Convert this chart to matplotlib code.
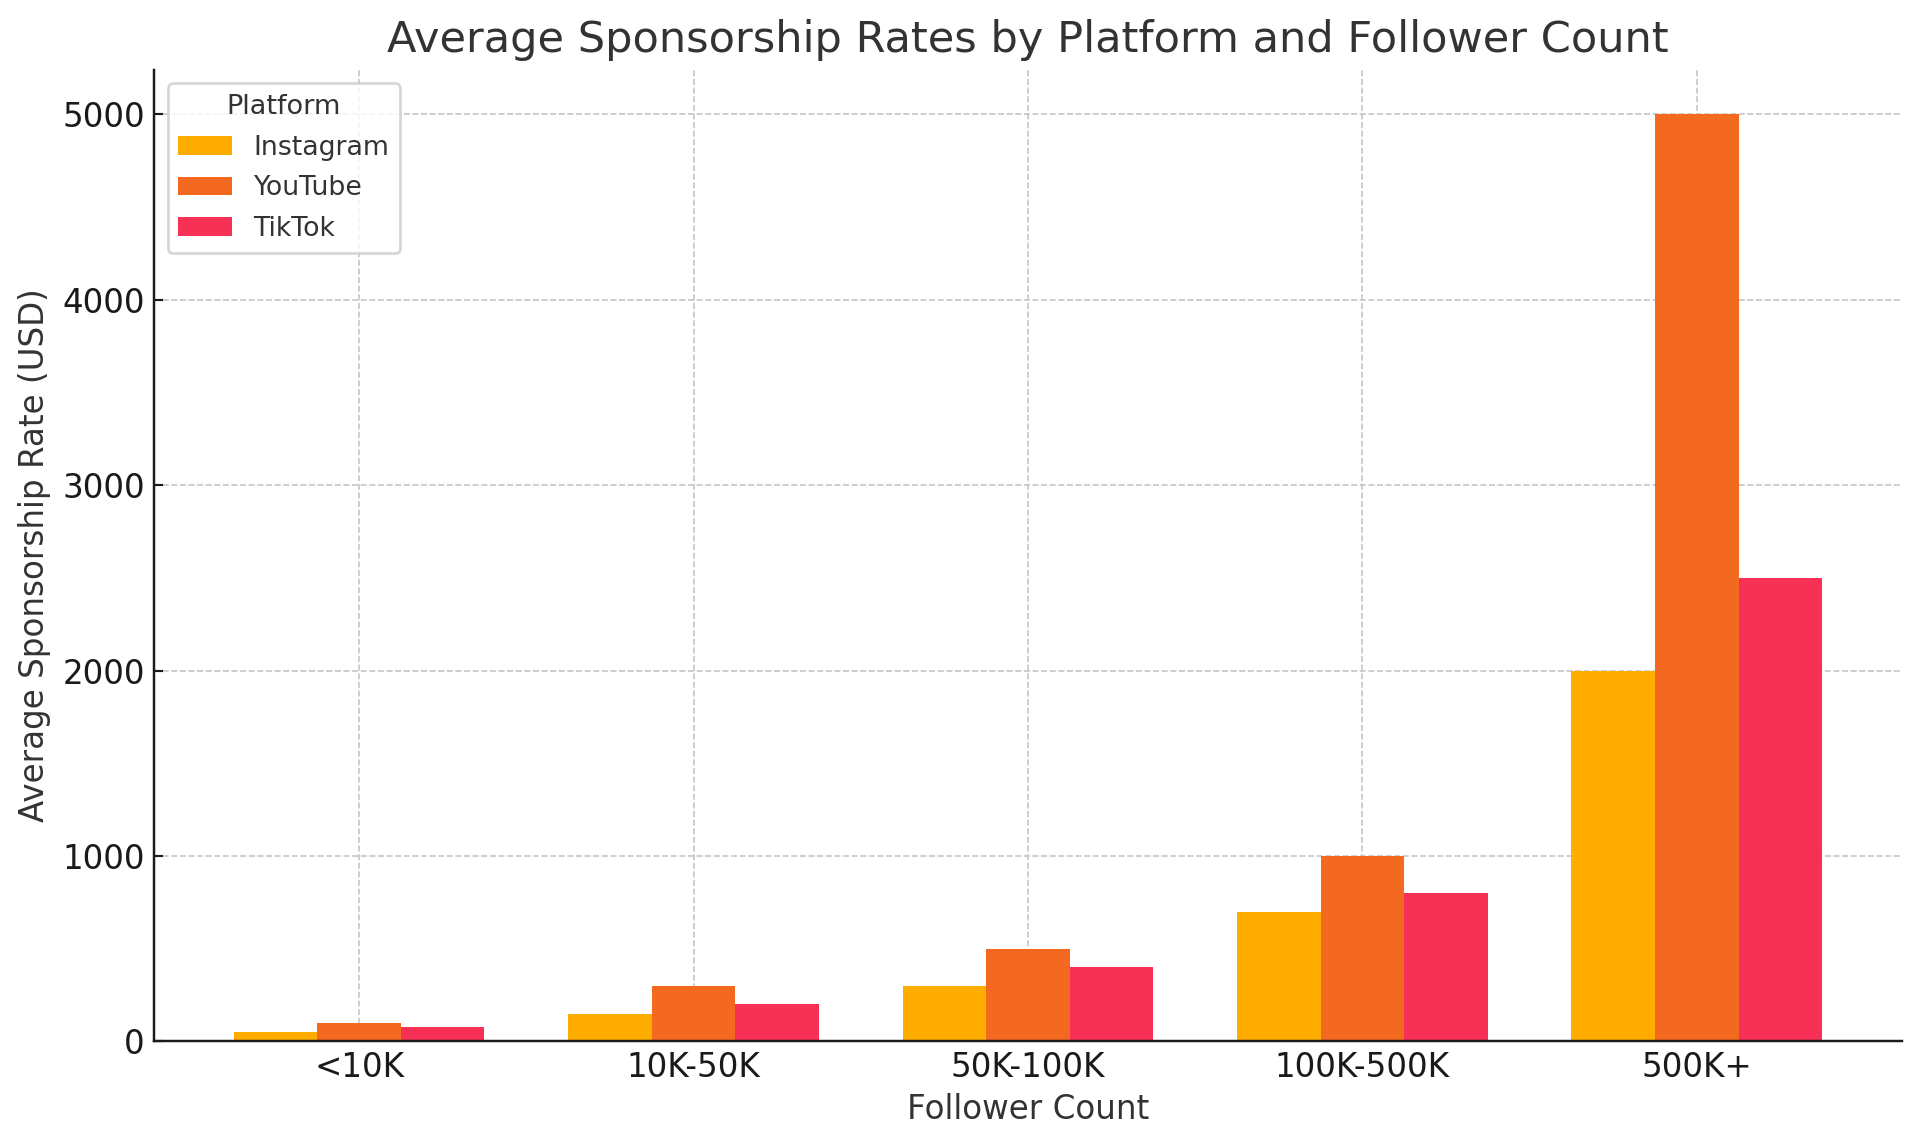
import numpy as np
import matplotlib
matplotlib.use("Agg")
import matplotlib.pyplot as plt

categories = ["<10K", "10K-50K", "50K-100K", "100K-500K", "500K+"]
instagram = [50, 150, 300, 700, 2000]
youtube = [100, 300, 500, 1000, 5000]
tiktok = [75, 200, 400, 800, 2500]

x = np.arange(len(categories))
w = 0.25
dark = "#333333"
dpi = 195

fig, ax = plt.subplots(figsize=(1920 / dpi, 1145 / dpi), dpi=dpi)
fig.subplots_adjust(left=0.0803, right=0.9905, top=0.939, bottom=0.0905)

ax.bar(x - w, instagram, w, color="#FFAC00", label="Instagram", zorder=2)
ax.bar(x, youtube, w, color="#F46920", label="YouTube", zorder=2)
ax.bar(x + w, tiktok, w, color="#F73155", label="TikTok", zorder=2)

ax.set_xticks(x)
ax.set_xticklabels(categories)
ax.set_ylim(0, 5240)
ax.tick_params(labelsize=12, colors="#1a1a1a", direction="in")
ax.grid(True, ls="--", lw=0.6, color="#c4c4c4", zorder=0)
ax.spines[["top", "right"]].set_visible(False)
ax.spines[["left", "bottom"]].set_color("#1a1a1a")
ax.spines[["left", "bottom"]].set_linewidth(0.9)

ax.set_title("Average Sponsorship Rates by Platform and Follower Count", fontsize=15.95, color=dark, pad=6.5)
ax.set_xlabel("Follower Count", fontsize=12, color=dark, labelpad=3.2)
ax.set_ylabel("Average Sponsorship Rate (USD)", fontsize=12, color=dark)

leg = ax.legend(title="Platform", loc="upper left", fontsize=9.9, title_fontsize=10, labelcolor=dark,
                labelspacing=0.55)
leg.get_title().set_color(dark)

fig.savefig("out.png", dpi=dpi)
